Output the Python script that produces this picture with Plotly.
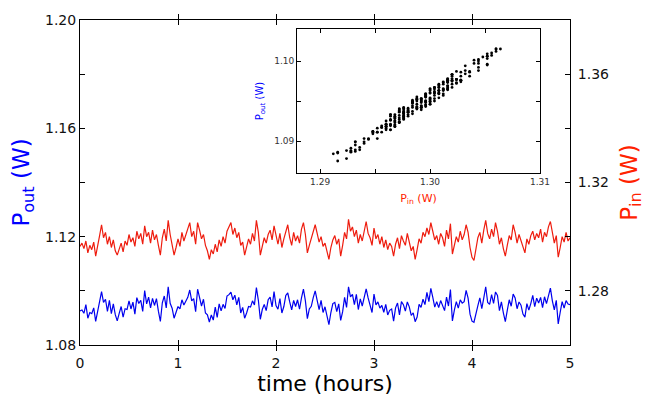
import numpy as np
import plotly.graph_objects as go

# sample times (hours), one reading every 0.02 h over 5 h
time_h = np.linspace(0, 5, 251)

p_in = [
    1.2964, 1.2976, 1.2956, 1.2984, 1.2940, 1.2968, 1.2952, 1.2980, 1.2928, 1.2960,
    1.3004, 1.3044, 1.2996, 1.3016, 1.2972, 1.3000, 1.2960, 1.2988, 1.2948, 1.2932,
    1.2956, 1.2976, 1.2944, 1.2984, 1.2968, 1.3008, 1.2980, 1.2996, 1.2964, 1.3020,
    1.2992, 1.3012, 1.2972, 1.3040, 1.3000, 1.3016, 1.2976, 1.3024, 1.2988, 1.3008,
    1.2968, 1.2932, 1.2996, 1.3028, 1.2984, 1.3060, 1.3008, 1.2976, 1.2932, 1.2960,
    1.2992, 1.2964, 1.3016, 1.2984, 1.3004, 1.3028, 1.3052, 1.3000, 1.3020, 1.2972,
    1.3052, 1.3024, 1.2992, 1.3008, 1.2968, 1.2948, 1.2916, 1.2952, 1.2936, 1.2972,
    1.2944, 1.2988, 1.2964, 1.3000, 1.2976, 1.3020, 1.3036, 1.3052, 1.3008, 1.3032,
    1.2996, 1.3016, 1.2968, 1.2980, 1.2932, 1.2960, 1.2992, 1.2972, 1.3012, 1.2984,
    1.3060, 1.3016, 1.2932, 1.2964, 1.2996, 1.2976, 1.3008, 1.3024, 1.2988, 1.3040,
    1.3000, 1.2972, 1.3012, 1.2960, 1.2992, 1.3020, 1.3044, 1.2996, 1.2968, 1.3016,
    1.2984, 1.3004, 1.2976, 1.3028, 1.3052, 1.3008, 1.2940, 1.2968, 1.2996, 1.3020,
    1.3044, 1.3012, 1.2980, 1.3000, 1.2964, 1.2976, 1.2948, 1.2916, 1.2960, 1.2988,
    1.3004, 1.2972, 1.2992, 1.2928, 1.2968, 1.3016, 1.2992, 1.3064, 1.3020, 1.3036,
    1.3000, 1.3024, 1.2976, 1.3008, 1.2984, 1.3028, 1.3056, 1.3012, 1.2996, 1.2968,
    1.3032, 1.2992, 1.3008, 1.2972, 1.3000, 1.2960, 1.2988, 1.2952, 1.2976, 1.2964,
    1.2928, 1.2972, 1.2996, 1.2956, 1.3004, 1.2984, 1.2968, 1.3012, 1.2980, 1.2948,
    1.2964, 1.2916, 1.2952, 1.2992, 1.2976, 1.3016, 1.3000, 1.3032, 1.3008, 1.3052,
    1.3020, 1.2988, 1.3004, 1.2972, 1.3012, 1.2996, 1.2964, 1.3024, 1.2992, 1.3048,
    1.2936, 1.2968, 1.3000, 1.2980, 1.3020, 1.2988, 1.3008, 1.3044, 1.3016, 1.2960,
    1.2924, 1.2912, 1.2964, 1.2996, 1.3016, 1.2976, 1.3024, 1.3060, 1.3012, 1.2992,
    1.3028, 1.3000, 1.3052, 1.3020, 1.2972, 1.2996, 1.2956, 1.2928, 1.2968, 1.3004,
    1.2988, 1.3044, 1.3016, 1.2976, 1.3008, 1.2984, 1.2964, 1.2940, 1.2992, 1.2972,
    1.3004, 1.3020, 1.2988, 1.3012, 1.2996, 1.3028, 1.2980, 1.3016, 1.3000, 1.3036,
    1.3056, 1.3008, 1.2976, 1.3004, 1.2924, 1.2960, 1.3000, 1.2980, 1.3016, 1.2984,
    1.2996,
]

p_out = [
    1.0926, 1.0929, 1.0917, 1.0949, 1.0899, 1.0920, 1.0916, 1.0937, 1.0887, 1.0925,
    1.0950, 1.0997, 1.0957, 1.0969, 1.0924, 1.0965, 1.0916, 1.0952, 1.0912, 1.0889,
    1.0917, 1.0942, 1.0903, 1.0934, 1.0931, 1.0963, 1.0933, 1.0958, 1.0914, 1.0975,
    1.0953, 1.0965, 1.0924, 1.1001, 1.0952, 1.0977, 1.0937, 1.0972, 1.0946, 1.0971,
    1.0925, 1.0887, 1.0956, 1.0981, 1.0937, 1.1015, 1.0954, 1.0936, 1.0899, 1.0918,
    1.0942, 1.0933, 1.0967, 1.0948, 1.0962, 1.0976, 1.1003, 1.0963, 1.0971, 1.0923,
    1.1006, 1.0977, 1.0944, 1.0969, 1.0918, 1.0911, 1.0885, 1.0911, 1.0892, 1.0940,
    1.0902, 1.0952, 1.0926, 1.0950, 1.0935, 1.0981, 1.0986, 1.0995, 1.0967, 1.0984,
    1.0948, 1.0976, 1.0918, 1.0939, 1.0899, 1.0918, 1.0942, 1.0940, 1.0963, 1.0948,
    1.1012, 1.0965, 1.0895, 1.0931, 1.0950, 1.0927, 1.0967, 1.0977, 1.0941, 1.0997,
    1.0946, 1.0932, 1.0971, 1.0918, 1.0942, 1.0983, 1.0992, 1.0959, 1.0930, 1.0965,
    1.0942, 1.0967, 1.0932, 1.0974, 1.1006, 1.0963, 1.0897, 1.0933, 1.0943, 1.0975,
    1.1000, 1.0965, 1.0931, 1.0965, 1.0920, 1.0941, 1.0912, 1.0875, 1.0920, 1.0953,
    1.0957, 1.0923, 1.0952, 1.0891, 1.0923, 1.0976, 1.0939, 1.1015, 1.0978, 1.0987,
    1.0949, 1.0987, 1.0931, 1.0970, 1.0944, 1.0976, 1.1007, 1.0974, 1.0950, 1.0920,
    1.0988, 1.0948, 1.0959, 1.0936, 1.0946, 1.0921, 1.0950, 1.0911, 1.0928, 1.0933,
    1.0888, 1.0937, 1.0955, 1.0911, 1.0960, 1.0949, 1.0925, 1.0959, 1.0941, 1.0909,
    1.0919, 1.0886, 1.0903, 1.0950, 1.0939, 1.0969, 1.0949, 1.0994, 1.0960, 1.1009,
    1.0976, 1.0940, 1.0960, 1.0938, 1.0964, 1.0945, 1.0927, 1.0977, 1.0944, 1.1005,
    1.0889, 1.0929, 1.0960, 1.0936, 1.0967, 1.0955, 1.0960, 1.1002, 1.0973, 1.0914,
    1.0888, 1.0884, 1.0921, 1.0945, 1.0974, 1.0934, 1.0973, 1.1015, 1.0957, 1.0950,
    1.0986, 1.0954, 1.0996, 1.0983, 1.0927, 1.0959, 1.0919, 1.0886, 1.0928, 1.0967,
    1.0943, 1.0988, 1.0974, 1.0934, 1.0959, 1.0947, 1.0914, 1.0903, 1.0953, 1.0929,
    1.0953, 1.0983, 1.0942, 1.0973, 1.0955, 1.0976, 1.0938, 1.0978, 1.0953, 1.0981,
    1.1010, 1.0963, 1.0930, 1.0965, 1.0878, 1.0921, 1.0960, 1.0936, 1.0964, 1.0951,
    1.0949,
]

main_x_ticks = [0, 1, 2, 3, 4, 5]
left_tickvals = [1.08, 1.10, 1.12, 1.14, 1.16, 1.18, 1.20]
left_ticktext = ["1.08", "", "1.12", "", "1.16", "", "1.20"]
right_tickvals = [1.26, 1.28, 1.30, 1.32, 1.34, 1.36, 1.38]
right_ticktext = ["", "1.28", "", "1.32", "", "1.36", ""]
inset_x_tickvals = [1.29, 1.295, 1.30, 1.305, 1.31]
inset_x_ticktext = ["1.29", "", "1.30", "", "1.31"]
inset_y_tickvals = [1.09, 1.095, 1.10]
inset_y_ticktext = ["1.09", "", "1.10"]

FONT = "DejaVu Sans"

fig = go.Figure()
fig.add_trace(go.Scatter(x=time_h, y=p_in, mode="lines", yaxis="y2",
                         line=dict(color="#ee1c0e", width=1.2), hoverinfo="skip"))
fig.add_trace(go.Scatter(x=time_h, y=p_out, mode="lines", yaxis="y",
                         line=dict(color="#0000ee", width=1.2), hoverinfo="skip"))
fig.add_trace(go.Scatter(x=p_in, y=p_out, mode="markers", xaxis="x3", yaxis="y3",
                         marker=dict(color="black", size=2.8), hoverinfo="skip"))

axis_common = dict(showgrid=False, zeroline=False, showline=True, linecolor="black",
                   linewidth=1, ticks="inside", tickcolor="black", automargin=False)

# the page body adds an 8 px offset, so margins are set to land the plot at x 80-570, y 20-345
fig.update_layout(
    width=664, height=399,
    margin=dict(l=72, r=102, t=12, b=62),
    paper_bgcolor="white", plot_bgcolor="white",
    showlegend=False,
    font=dict(family=FONT, color="black"),
    xaxis=dict(**axis_common, domain=[0, 1], range=[0, 5], tickvals=main_x_ticks,
               ticklen=5, mirror="allticks", tickfont=dict(size=14, color="#111"),
               ticklabelstandoff=5,
               title=dict(text="time (hours)", font=dict(size=22, color="black"), standoff=4)),
    yaxis=dict(**axis_common, domain=[0, 1], range=[1.08, 1.20], tickvals=left_tickvals,
               ticktext=left_ticktext, ticklen=5, mirror=True,
               tickfont=dict(size=14, color="#111"),
               title=dict(text="P<sub>out</sub> (W)", font=dict(size=23, color="#0000ff"), standoff=11)),
    yaxis2=dict(**axis_common, overlaying="y", side="right", anchor="x", range=[1.26, 1.38],
                tickvals=right_tickvals, ticktext=right_ticktext, ticklen=5,
                tickfont=dict(size=14, color="#111"), ticklabelstandoff=4,
                title=dict(text="P<sub>in</sub> (W)", font=dict(size=23, color="#ff2200"), standoff=12)),
    xaxis3=dict(**axis_common, domain=[0.4429, 0.9388], anchor="y3", range=[1.2879, 1.31],
                tickvals=inset_x_tickvals, ticktext=inset_x_ticktext, ticklen=4, mirror="allticks",
                tickfont=dict(size=9, color="#333"),
                title=dict(text="P<sub>in</sub> (W)", font=dict(size=11, color="#ff2200"), standoff=8)),
    yaxis3=dict(**axis_common, domain=[0.5292, 0.9723], anchor="x3", range=[1.0860, 1.1040],
                tickvals=inset_y_tickvals, ticktext=inset_y_ticktext, ticklen=4, mirror="allticks",
                tickfont=dict(size=9, color="#333"),
                title=dict(text="P<sub>out</sub> (W)", font=dict(size=10, color="#0000ff"), standoff=8)),
)

fig.write_html("out.html")
